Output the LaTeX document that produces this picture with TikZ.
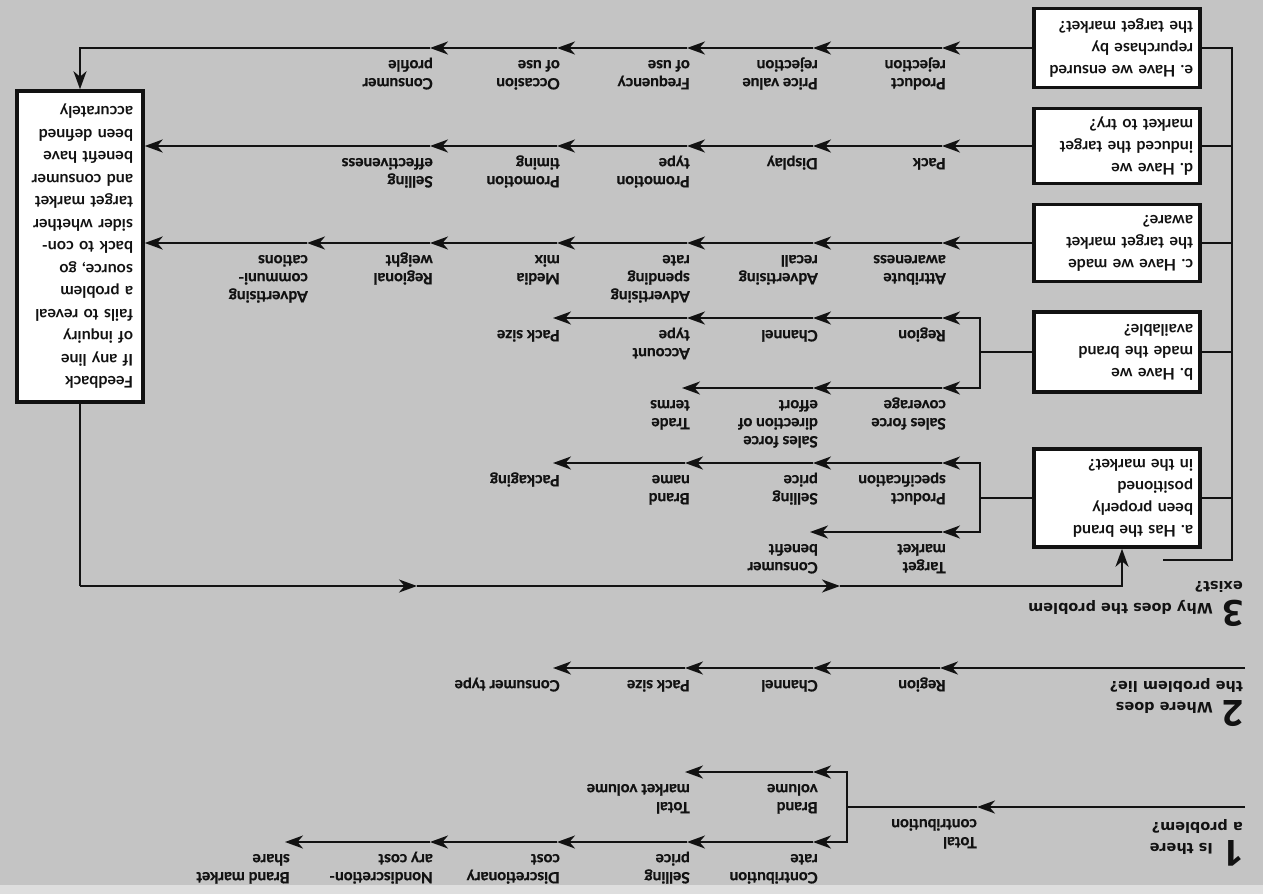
\documentclass[tikz,border=0pt]{standalone}
\usepackage{fontspec}
\setmainfont{Lato}
\newfontfamily\lblfont{Lato}[BoldFeatures={FakeBold=0.8}]
\newfontfamily\headfont{DejaVu Sans}
\newfontfamily\numfont{Open Sans}
\usetikzlibrary{arrows.meta}
\frenchspacing

\definecolor{paper}{RGB}{196,196,196}
\definecolor{paperedge}{RGB}{222,222,222}
\definecolor{ink}{RGB}{18,18,18}

% a row of arrowed segments: name, y, x positions of the arrow tips
\newcommand\flowrow[3]{%
  \foreach \t [count=\i, remember=\i as \j (initially 0)] in {#3}{%
    \coordinate (#1-\i) at (\t,#2);
    \draw[flow] (#1-\j) -- (#1-\i);
  }}
% a factor label sitting on a row segment: name, x of the arrow tip, row y, text
\newcommand\rowlabel[4]{\node[lbl] (#1) at (#2+3,#3+6.6) {#4};}

\begin{document}
\begin{tikzpicture}[x=1pt,y=-1pt,
  wire/.style={draw=ink,line width=2.2pt},
  flow/.style={wire,-{Stealth[length=18pt,width=13pt,inset=5.5pt]}},
  qbox/.style={draw=ink,line width=3.5pt,fill=white,rotate=180,align=left,
    text width=152pt,minimum width=166pt,inner sep=0pt,text=ink,
    font=\bfseries\fontsize{16}{22}\selectfont},
  fbbox/.style={draw=ink,line width=3.5pt,fill=white,rotate=180,align=left,
    text width=106pt,minimum width=126pt,minimum height=311pt,inner sep=0pt,text=ink,
    font=\bfseries\fontsize{16}{22.5}\selectfont},
  lbl/.style={rotate=180,anchor=south west,align=left,inner sep=0pt,text=ink,
    font=\lblfont\bfseries\fontsize{15.5}{18}\selectfont,execute at end node=\strut},
  num/.style={rotate=180,anchor=base west,inner sep=0pt,text=ink,
    font=\numfont\bfseries\fontsize{36}{36}\selectfont},
  head/.style={rotate=180,anchor=base west,inner sep=0pt,text=ink,
    font=\headfont\bfseries\fontsize{14.5}{18}\selectfont},
]
% paper
\fill[paper] (0,0) rectangle (1263,894);
\fill[paperedge] (0,885) rectangle (1263,894);
\useasboundingbox (0,0) rectangle (1263,894);

% ---------- headings ----------
\node[num]  (n1)  at (1244,840) {1};
\node[head] (t1a) at (1213,843) {Is there};
\node[head] (t1b) at (1243,822) {a problem?};
\node[num]  (n2)  at (1244,700) {2};
\node[head] (t2a) at (1213,702) {Where does};
\node[head] (t2b) at (1243,681) {the problem lie?};
\node[num]  (n3)  at (1244,600) {3};
\node[head] (t3a) at (1213,603) {Why does the problem};
\node[head] (t3b) at (1243,581) {exist?};

% ---------- question boxes ----------
\node[qbox,minimum height=79pt] (qe) at (1117,48)  {e. Have we ensured\\repurchase by\\the target market?};
\node[qbox,minimum height=75pt] (qd) at (1117,146) {d. Have we\\induced the target\\market to try?};
\node[qbox,minimum height=77pt] (qc) at (1117,243) {c. Have we made\\the target market\\aware?};
\node[qbox,minimum height=80pt] (qb) at (1117,352) {b. Have we\\made the brand\\available?};
\node[qbox,minimum height=98pt] (qa) at (1117,498) {a. Has the brand\\been properly\\positioned\\in the market?};

\node[fbbox] (fb) at (80,246.5) {Feedback\\If any line\\of inquiry\\fails to reveal\\a problem\\source, go\\back to con-\\sider whether\\target market\\and consumer\\benefit have\\been defined\\accurately};

% ---------- bracket joining the five questions ----------
\coordinate (brk) at (1232,560);
\coordinate (brks) at (1163,560);
\draw[wire] (brks) -- (brk) -- (brk |- qe.west) -- (qe.west);
\draw[wire] (qd.west) -- (qd.west -| brk);
\draw[wire] (qc.west) -- (qc.west -| brk);
\draw[wire] (qb.west) -- (qb.west -| brk);
\draw[wire] (qa.west) -- (qa.west -| brk);

% ---------- 1: is there a problem? ----------
\coordinate (s1-0) at (1245,807);
\flowrow{s1}{807}{977}
\coordinate (s1j) at (847,807);
\draw[wire] (s1-1) -- (s1j);
\coordinate (s1u-0) at (847,772);
\coordinate (s1l-0) at (847,842);
\draw[wire,line cap=rect] (s1u-0) -- (s1l-0);
\flowrow{s1u}{772}{813,685}
\flowrow{s1l}{842}{813,687,557,430,285}

\rowlabel{tc}{974}{807}{Total\\contribution}
\rowlabel{bv}{815}{772}{Brand\\volume}
\rowlabel{tmv}{687}{772}{Total\\market volume}
\rowlabel{cr}{815}{842}{Contribution\\rate}
\rowlabel{sp1}{687}{842}{Selling\\price}
\rowlabel{dc}{557}{842}{Discretionary\\cost}
\rowlabel{nc}{430}{842}{Nondiscretion-\\ary cost}
\rowlabel{bms}{287}{842}{Brand market\\share}

% ---------- 2: where does the problem lie? ----------
\coordinate (s2-0) at (1245,668);
\flowrow{s2}{668}{940,813,685,553}
\rowlabel{s2r}{943}{668}{Region}
\rowlabel{s2c}{815}{668}{Channel}
\rowlabel{s2p}{687}{668}{Pack size}
\rowlabel{s2t}{557}{668}{Consumer type}

% ---------- 3: why does the problem exist? ----------
% e. repurchase
\coordinate (e-0) at (qe.east);
\flowrow{e}{48}{942,813,687,557,430}
\coordinate (ecorner) at (fb.south |- e-5);
\draw[flow] (e-5) -- (ecorner) -- (fb.south);
\rowlabel{e1}{943}{48}{Product\\rejection}
\rowlabel{e2}{815}{48}{Price value\\rejection}
\rowlabel{e3}{687}{48}{Frequency\\of use}
\rowlabel{e4}{557}{48}{Occasion\\of use}
\rowlabel{e5}{430}{48}{Consumer\\profile}

% d. trial
\coordinate (d-0) at (qd.east);
\flowrow{d}{146}{942,813,687,557,430}
\draw[flow] (d-5) -- (fb.west |- d-5);
\rowlabel{d1}{943}{146}{Pack}
\rowlabel{d2}{815}{146}{Display}
\rowlabel{d3}{687}{146}{Promotion\\type}
\rowlabel{d4}{557}{146}{Promotion\\timing}
\rowlabel{d5}{430}{146}{Selling\\effectiveness}

% c. awareness
\coordinate (c-0) at (qc.east);
\flowrow{c}{243}{942,813,687,557,430,307}
\draw[flow] (c-6) -- (fb.west |- c-6);
\rowlabel{c1}{943}{243}{Attribute\\awareness}
\rowlabel{c2}{815}{243}{Advertising\\recall}
\rowlabel{c3}{687}{243}{Advertising\\spending\\rate}
\rowlabel{c4}{557}{243}{Media\\mix}
\rowlabel{c5}{430}{243}{Regional\\weight}
\rowlabel{c6}{305}{243}{Advertising\\communi-\\cations}

% b. availability
\coordinate (bj) at (980,352);
\draw[wire] (qb.east) -- (bj);
\coordinate (bt-0) at (980,318);
\coordinate (bb-0) at (980,388);
\draw[wire,line cap=rect] (bt-0) -- (bb-0);
\flowrow{bt}{318}{942,813,687,553}
\flowrow{bb}{388}{942,813,682}
\rowlabel{bt1}{943}{318}{Region}
\rowlabel{bt2}{815}{318}{Channel}
\rowlabel{bt3}{687}{318}{Account\\type}
\rowlabel{bt4}{557}{318}{Pack size}
\rowlabel{bb1}{943}{388}{Sales force\\coverage}
\rowlabel{bb2}{815}{388}{Sales force\\direction of\\effort}
\rowlabel{bb3}{687}{388}{Trade\\terms}

% a. positioning
\coordinate (aj) at (980,498);
\draw[wire] (qa.east) -- (aj);
\coordinate (at-0) at (980,463);
\coordinate (ab-0) at (980,532);
\draw[wire,line cap=rect] (at-0) -- (ab-0);
\flowrow{at}{463}{942,813,685,553}
\flowrow{ab}{532}{942,810}
\rowlabel{at1}{943}{463}{Product\\specification}
\rowlabel{at2}{815}{463}{Selling\\price}
\rowlabel{at3}{687}{463}{Brand\\name}
\rowlabel{at4}{557}{463}{Packaging}
\rowlabel{ab1}{943}{532}{Target\\market}
\rowlabel{ab2}{815}{532}{Consumer\\benefit}

% ---------- feedback loop back to question a ----------
\coordinate (lp1) at (80,586);
\coordinate (lp2) at (417,586);
\coordinate (lp3) at (840,586);
\coordinate (lp4) at (1122,586);
\draw[wire] (fb.north) -- (lp1);
\draw[flow] (lp1) -- (lp2);
\draw[flow] (lp2) -- (lp3);
\draw[flow] (lp3) -- (lp4) -- (lp4 |- qa.north);
\end{tikzpicture}
\end{document}
